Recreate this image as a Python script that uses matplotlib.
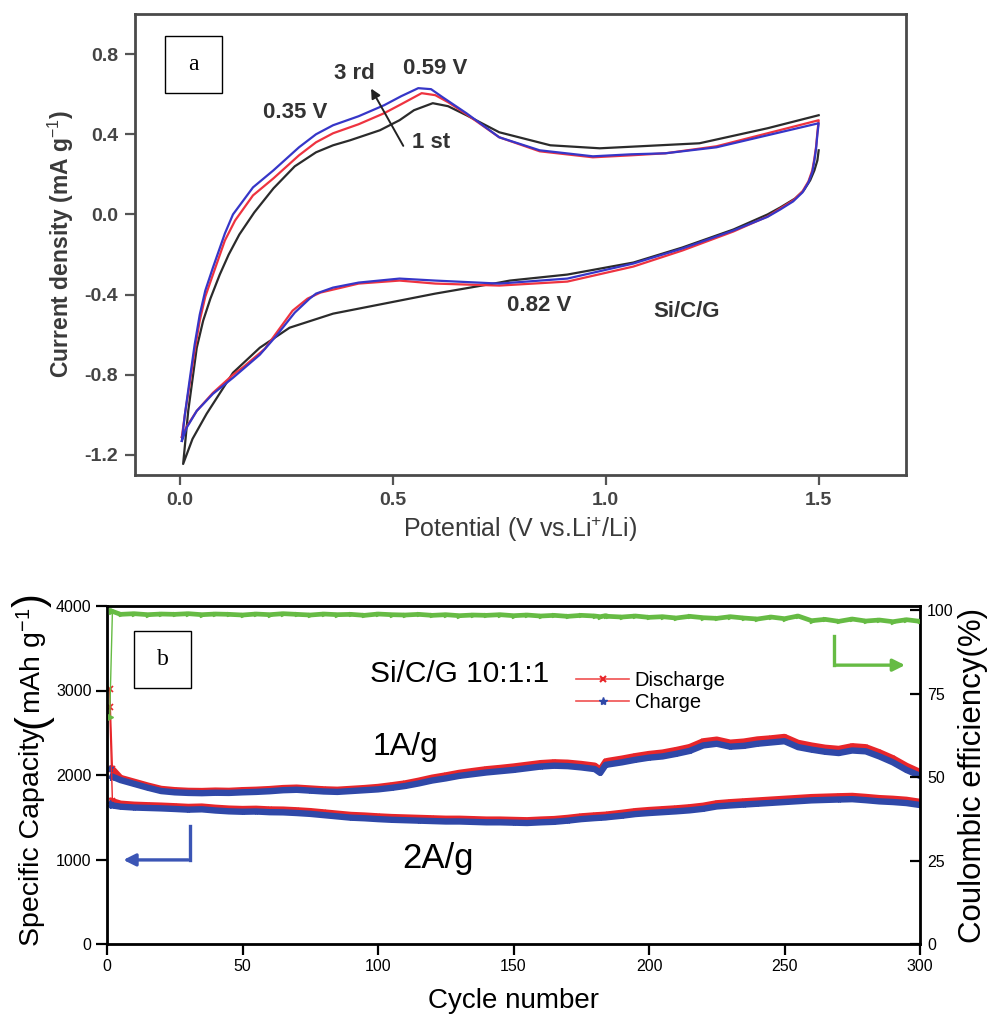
import matplotlib

matplotlib.use("Agg")
import matplotlib.pyplot as plt  # noqa: E402
import numpy as np  # noqa: E402
from matplotlib.lines import Line2D  # noqa: E402
from matplotlib.patches import Rectangle  # noqa: E402

plt.rcParams["font.family"] = ["Liberation Sans", "DejaVu Sans"]
plt.rcParams["mathtext.fontset"] = "custom"
plt.rcParams["mathtext.rm"] = "Liberation Sans"
plt.rcParams["mathtext.it"] = "Liberation Sans:italic"
plt.rcParams["mathtext.bf"] = "Liberation Sans:bold"

# ---- (a) cyclic voltammetry, cycles 1-3 : (potential V, current mA/g) ----
V_1ST = [1.5, 1.497, 1.49, 1.48, 1.465, 1.445, 1.41, 1.38, 1.30, 1.18, 1.065, 0.91, 0.82, 0.775, 0.75, 0.6,
         0.516, 0.36, 0.258, 0.188, 0.125, 0.063, 0.03, 0.008,
         0.02, 0.04, 0.055, 0.072, 0.094, 0.115, 0.14, 0.175, 0.22, 0.27, 0.32, 0.36, 0.40, 0.47, 0.516,
         0.55, 0.594, 0.63, 0.673, 0.75, 0.87, 0.986, 1.08, 1.22, 1.38, 1.5]
I_1ST = [0.32, 0.27, 0.22, 0.17, 0.12, 0.08, 0.035, 0.0, -0.075, -0.165, -0.24, -0.30, -0.32, -0.33, -0.34,
         -0.395, -0.43, -0.495, -0.565, -0.665, -0.79, -0.995, -1.12, -1.245,
         -0.98, -0.665, -0.53, -0.42, -0.30, -0.20, -0.10, 0.01, 0.13, 0.24, 0.31, 0.345, 0.37, 0.42, 0.47,
         0.52, 0.555, 0.54, 0.495, 0.41, 0.345, 0.33, 0.34, 0.355, 0.43, 0.495]

V_2ND = [0.005, 0.012, 0.023, 0.035, 0.047, 0.06, 0.078, 0.106, 0.13, 0.172, 0.22, 0.28, 0.32, 0.36, 0.42,
         0.48, 0.52, 0.568, 0.60, 0.63, 0.673, 0.75, 0.845, 0.97, 1.06, 1.14, 1.26, 1.38, 1.5,
         1.497, 1.494, 1.49, 1.485, 1.476, 1.462, 1.44, 1.41, 1.38, 1.30, 1.18, 1.065, 0.91, 0.75, 0.6,
         0.516, 0.42, 0.33, 0.3, 0.265, 0.2, 0.15, 0.125, 0.078, 0.04, 0.016, 0.005]
I_2ND = [-1.11, -1.0, -0.85, -0.68, -0.53, -0.41, -0.30, -0.13, -0.03, 0.095, 0.18, 0.295, 0.36, 0.405, 0.45,
         0.505, 0.55, 0.605, 0.595, 0.56, 0.50, 0.385, 0.315, 0.285, 0.295, 0.305, 0.34, 0.405, 0.47,
         0.41, 0.34, 0.28, 0.22, 0.165, 0.115, 0.07, 0.03, -0.01, -0.085, -0.18, -0.26, -0.335, -0.355, -0.345,
         -0.33, -0.345, -0.39, -0.42, -0.48, -0.67, -0.76, -0.80, -0.89, -0.98, -1.06, -1.11]

V_3RD = [0.005, 0.012, 0.023, 0.035, 0.047, 0.06, 0.078, 0.106, 0.125, 0.172, 0.22, 0.28, 0.32, 0.36, 0.42,
         0.48, 0.52, 0.56, 0.59, 0.617, 0.673, 0.75, 0.845, 0.97, 1.06, 1.14, 1.26, 1.38, 1.5,
         1.497, 1.494, 1.49, 1.485, 1.476, 1.462, 1.44, 1.41, 1.38, 1.30, 1.18, 1.065, 0.91, 0.75, 0.6,
         0.516, 0.42, 0.36, 0.32, 0.305, 0.27, 0.225, 0.188, 0.125, 0.078, 0.04, 0.016, 0.005]
I_3RD = [-1.13, -1.0, -0.83, -0.65, -0.50, -0.38, -0.265, -0.095, 0.0, 0.135, 0.22, 0.335, 0.40, 0.445, 0.49,
         0.545, 0.59, 0.63, 0.625, 0.585, 0.505, 0.385, 0.32, 0.29, 0.30, 0.305, 0.335, 0.395, 0.455,
         0.40, 0.33, 0.27, 0.21, 0.16, 0.11, 0.065, 0.025, -0.012, -0.08, -0.17, -0.245, -0.32, -0.345, -0.33,
         -0.32, -0.34, -0.365, -0.395, -0.42, -0.49, -0.61, -0.70, -0.815, -0.895, -0.98, -1.065, -1.13]

# ---- (b) long cycling at 1 A/g and 2 A/g ----
CYCLES = np.r_[1, 2, np.arange(5, 181, 5), 182, 184, np.arange(185, 301, 5)]
CHARGE_1A = [2080, 1980, 1940, 1895, 1850, 1810, 1795, 1788, 1785, 1790, 1788, 1795, 1800, 1808, 1820, 1825,
             1815, 1805, 1800, 1810, 1820, 1830, 1848, 1870, 1900, 1935, 1960, 1990, 2010, 2030, 2045, 2060,
             2080, 2100, 2110, 2105, 2090, 2070, 2025, 2120, 2125, 2150, 2180, 2205, 2220, 2250, 2285, 2350,
             2370, 2335, 2345, 2370, 2385, 2400, 2330, 2300, 2275, 2260, 2290, 2280, 2220, 2150, 2060, 1990]
DISCHARGE_1A = [3020, 2070, 1965, 1920, 1875, 1835, 1820, 1812, 1810, 1815, 1812, 1820, 1825, 1833, 1845, 1850,
                1840, 1830, 1825, 1835, 1845, 1858, 1878, 1900, 1932, 1968, 1995, 2025, 2047, 2068, 2083, 2100,
                2120, 2140, 2150, 2145, 2130, 2110, 2062, 2160, 2167, 2193, 2223, 2248, 2265, 2295, 2330, 2398,
                2418, 2382, 2395, 2420, 2433, 2450, 2380, 2348, 2322, 2308, 2340, 2328, 2268, 2198, 2108, 2035]
CHARGE_2A = [1670, 1640, 1625, 1615, 1610, 1605, 1598, 1590, 1594, 1580, 1570, 1565, 1568, 1560, 1558, 1550,
             1540, 1525, 1510, 1495, 1488, 1478, 1470, 1465, 1460, 1455, 1450, 1450, 1445, 1440, 1440, 1436,
             1432, 1440, 1446, 1460, 1478, 1490, 1494, 1498, 1502, 1518, 1538, 1550, 1560, 1570, 1582, 1600,
             1628, 1640, 1650, 1660, 1670, 1680, 1690, 1700, 1705, 1710, 1714, 1702, 1688, 1680, 1668, 1645]
DISCHARGE_2A = [2810, 1690, 1660, 1648, 1642, 1637, 1630, 1622, 1626, 1612, 1602, 1597, 1600, 1592, 1590, 1582,
                1572, 1557, 1542, 1527, 1520, 1510, 1502, 1497, 1492, 1487, 1482, 1482, 1477, 1472, 1472, 1468,
                1464, 1472, 1478, 1492, 1510, 1522, 1526, 1530, 1534, 1552, 1572, 1585, 1595, 1605, 1618, 1636,
                1665, 1678, 1688, 1698, 1708, 1718, 1728, 1738, 1743, 1748, 1752, 1740, 1726, 1718, 1706, 1682]
CE = [68.0, 99.6, 98.7, 98.9, 98.6, 98.8, 98.7, 98.9, 98.6, 98.8, 98.7, 98.5, 98.8, 98.6, 98.9, 98.7,
      98.5, 98.8, 98.6, 98.7, 98.4, 98.8, 98.6, 98.5, 98.7, 98.4, 98.6, 98.3, 98.5, 98.4, 98.6, 98.3,
      98.5, 98.2, 98.4, 98.1, 98.4, 98.2, 98.0, 98.3, 98.1, 97.9, 98.2, 97.8, 98.0, 97.6, 98.1, 97.7,
      97.5, 98.0, 97.6, 97.3, 97.9, 97.4, 98.2, 96.8, 97.2, 96.6, 97.3, 96.7, 97.0, 96.5, 97.1, 96.6]

RED, BLUE, GREEN = "#e8262a", "#2f48a8", "#66bb44"
GREY = "#3a3a3a"

W, H = 989, 1018
fig = plt.figure(figsize=(W / 100, H / 100), dpi=100)


def fig_box(x0, y0, x1, y1):
    """pixel box (top-left origin) -> figure fraction rect"""
    return [x0 / W, 1 - y1 / H, (x1 - x0) / W, (y1 - y0) / H]


def label_box(x0, y0, x1, y1, s):
    fig.add_artist(Rectangle((x0 / W, 1 - y1 / H), (x1 - x0) / W, (y1 - y0) / H,
                             transform=fig.transFigure, fill=True, facecolor="white",
                             edgecolor="black", lw=1.0, zorder=10))
    fig.text((x0 + x1) / 2 / W, 1 - (y0 + y1) / 2 / H, s, ha="center", va="center",
             family="Liberation Serif", fontsize=17, zorder=11)


def stacked_ylabel(x_px, y_px, pieces):
    """vertical label built bottom-up from (text, size) pieces"""
    renderer = fig.canvas.get_renderer()
    y = 1 - y_px / H
    for s, size in pieces:
        t = fig.text(x_px / W, y, s, rotation=90, ha="center", va="bottom", fontsize=size)
        bb = t.get_window_extent(renderer)
        y = bb.y1 / fig.bbox.height


# ---------------- panel (a) ----------------
ax = fig.add_axes(fig_box(135, 14, 906, 475))
ax.plot(V_1ST, I_1ST, color="#2b2b2b", lw=1.6)
ax.plot(V_2ND, I_2ND, color="#ee3340", lw=1.6)
ax.plot(V_3RD, I_3RD, color="#3636c8", lw=1.6)
ax.set_xlim(-0.105, 1.705)
ax.set_ylim(-1.3, 1.0)
ax.set_xticks([0.0, 0.5, 1.0, 1.5])
ax.set_yticks([-1.2, -0.8, -0.4, 0.0, 0.4, 0.8])
ax.xaxis.set_major_formatter(matplotlib.ticker.FormatStrFormatter("%.1f"))
ax.yaxis.set_major_formatter(matplotlib.ticker.FormatStrFormatter("%.1f"))
ax.tick_params(direction="out", length=7, width=1.6, color="#555555", labelsize=14,
               labelcolor="#444444", pad=5)
for t in ax.get_xticklabels() + ax.get_yticklabels():
    t.set_fontweight("bold")
for s in ax.spines.values():
    s.set_linewidth(2.0)
    s.set_color("#4a4a4a")
ax.set_xlabel("Potential (V vs.Li$^{+}$/Li)", fontsize=18, color=GREY, labelpad=4)
ax.set_ylabel("Current density (mA g$^{-1}$)", fontsize=16.5, color=GREY, fontweight="bold", labelpad=6)

note = dict(fontsize=16, color="#333333", fontweight="bold", ha="center", va="center")
ax.text(0.272, 0.51, "0.35 V", **note)
ax.text(0.41, 0.705, "3 rd", **note)
ax.text(0.60, 0.73, "0.59 V", **note)
ax.text(0.59, 0.36, "1 st", **note)
ax.text(0.845, -0.455, "0.82 V", **note)
ax.text(1.19, -0.485, "Si/C/G", **note)
ax.annotate("", xy=(0.446, 0.64), xytext=(0.528, 0.33),
            arrowprops=dict(arrowstyle="-|>", color="#222222", lw=1.4, mutation_scale=14))

label_box(165, 36, 222, 93, "a")

# ---------------- panel (b) ----------------
bx = fig.add_axes(fig_box(107, 606, 920, 944))
for cap, style in ((DISCHARGE_1A, dict(color=RED, marker="x", mew=1.2)),
                   (CHARGE_1A, dict(color=BLUE, marker="*")),
                   (DISCHARGE_2A, dict(color=RED, marker="x", mew=1.2)),
                   (CHARGE_2A, dict(color=BLUE, marker="*"))):
    bx.plot(CYCLES[:2], cap[:2], lw=1.0, ms=5, **style)       # first-cycle drop, thin
    bx.plot(CYCLES[1:], cap[1:], lw=4.6, ms=3, **style)
bx.set_xlim(0, 300)
bx.set_ylim(0, 4000)
bx.set_xticks(range(0, 301, 50))
bx.set_yticks(range(0, 4001, 1000))
bx.tick_params(direction="out", length=8, width=1.6, labelsize=11.5, pad=3)
for s in bx.spines.values():
    s.set_linewidth(2.0)
bx.set_xlabel("Cycle number", fontsize=20, labelpad=10)

cx = bx.twinx()
cx.plot(CYCLES[:2], CE[:2], color=GREEN, lw=1.0, marker=">", ms=5)
cx.plot(CYCLES[1:], CE[1:], color=GREEN, lw=3.4, marker=">", ms=3)
cx.set_ylim(0, 101.2)
cx.set_yticks([0, 25, 50, 75, 100])
cx.tick_params(axis="y", direction="in", length=7, width=1.6, labelsize=11.5, pad=5)
cx.set_ylabel("Coulombic efficiency(%)", fontsize=22.5, labelpad=3)

bx.text(130, 3190, "Si/C/G 10:1:1", fontsize=21.5, ha="center", va="center")
bx.text(110, 2330, "1A/g", fontsize=23, ha="center", va="center")
bx.text(122, 1010, "2A/g", fontsize=25, ha="center", va="center")

handles = [Line2D([], [], color="#f05050", lw=1.2, marker="x", ms=5, mec=RED, mew=1.5),
           Line2D([], [], color="#f05050", lw=1.2, marker="*", ms=6, mfc=BLUE, mec=BLUE)]
bx.legend(handles, ["Discharge", "Charge"], loc="upper left", bbox_to_anchor=(0.555, 0.862),
          frameon=False, fontsize=14.5, handlelength=2.6, handletextpad=0.3, labelspacing=0.15)

# axis-pointer arrows
bx.plot([30.6, 30.6], [1400, 995], color="#3b55b5", lw=2.4)
bx.annotate("", xy=(5.0, 995), xytext=(31.0, 995),
            arrowprops=dict(arrowstyle="-|>", color="#3b55b5", lw=2.4, mutation_scale=18))
bx.plot([268.3, 268.3], [3650, 3300], color=GREEN, lw=2.4)
bx.annotate("", xy=(295.5, 3300), xytext=(267.9, 3300),
            arrowprops=dict(arrowstyle="-|>", color=GREEN, lw=2.4, mutation_scale=18))

label_box(134, 631, 191, 688, "b")

stacked_ylabel(32, 946, [("Specific Capacity", 20.5), ("(", 30), ("mAh g$^{-1}$", 20.5), (")", 30)])

fig.savefig("out.png", dpi=100)
